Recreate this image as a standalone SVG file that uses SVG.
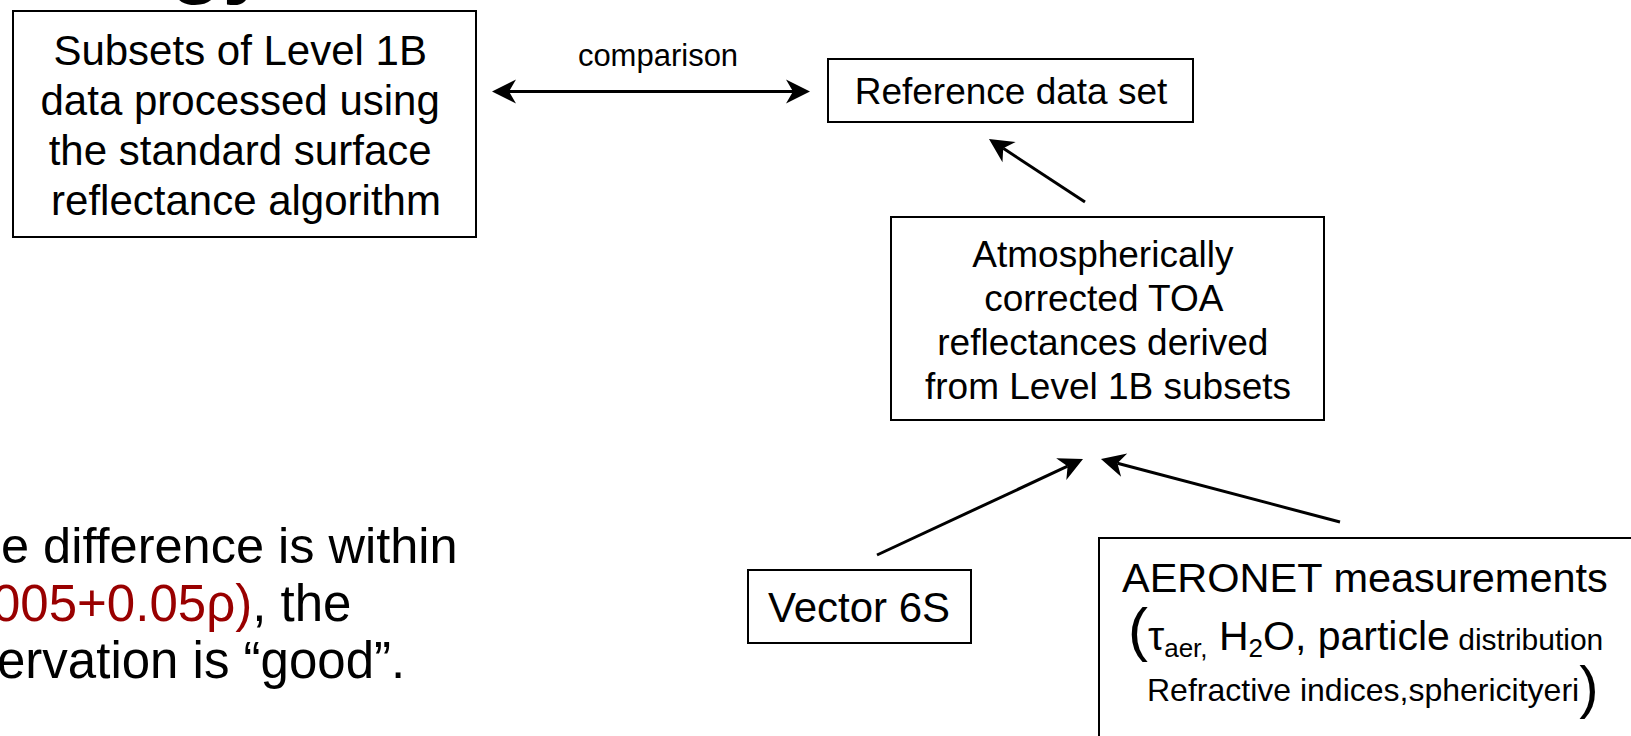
<svg xmlns="http://www.w3.org/2000/svg" width="1631" height="736" viewBox="0 0 1631 736">
<style>
  .box { fill: #ffffff; stroke: #000000; stroke-width: 2; }
  .t { font-family: "Liberation Sans", Arial, sans-serif; fill: #000000; }
  .c { text-anchor: middle; }
  .conn { stroke: #000000; stroke-width: 3; fill: none; }
  .red { fill: #990000; }
</style>
<defs>
  <marker id="ah" markerUnits="userSpaceOnUse" viewBox="-26 -14 28 28" markerWidth="28" markerHeight="28" refX="-17" refY="0" orient="auto-start-reverse">
    <path d="M0,0 L-24,-12 L-17,0 L-24,12 Z" fill="#000000"/>
  </marker>
</defs>
<rect width="1631" height="736" fill="#ffffff"/>

<g id="title">
  <text class="t" x="170" y="-13" font-size="86" font-weight="bold">gy</text>
</g>

<g id="node-subsets">
  <rect class="box" x="13" y="11" width="463" height="226"/>
  <text class="t c" font-size="42">
    <tspan x="246" y="65">Subsets of Level 1B</tspan>
    <tspan x="246" y="115">data processed using</tspan>
    <tspan x="246" y="165">the standard surface</tspan>
    <tspan x="246" y="215">reflectance algorithm</tspan>
  </text>
</g>

<g id="node-reference">
  <rect class="box" x="828" y="59" width="365" height="63"/>
  <text class="t c" x="1011" y="104" font-size="37">Reference data set</text>
</g>

<g id="node-atmos">
  <rect class="box" x="891" y="217" width="433" height="203"/>
  <text class="t c" font-size="37">
    <tspan x="1108" y="267">Atmospherically</tspan>
    <tspan x="1108" y="311">corrected TOA</tspan>
    <tspan x="1108" y="355">reflectances derived</tspan>
    <tspan x="1108" y="399">from Level 1B subsets</tspan>
  </text>
</g>

<g id="node-vector6s">
  <rect class="box" x="748" y="570" width="223" height="73"/>
  <text class="t c" x="859" y="622" font-size="42">Vector 6S</text>
</g>

<g id="node-aeronet">
  <rect class="box" x="1099" y="538" width="600" height="300"/>
  <text class="t" x="1122" y="592" font-size="41.5">AERONET measurements</text>
  <text class="t" x="1128" y="650" font-size="41"><tspan font-size="60">(</tspan><tspan>τ</tspan><tspan font-size="26" dy="7">aer,</tspan><tspan dy="-7"> H</tspan><tspan font-size="26" dy="7">2</tspan><tspan dy="-7">O, particle</tspan><tspan font-size="30"> distribution</tspan></text>
  <text class="t" x="1147" y="701" font-size="32">Refractive indices,sphericityeri<tspan font-size="58" dy="6">)</tspan></text>
</g>

<g id="note">
  <text class="t" x="1" y="563" font-size="50.5">e difference is within</text>
  <text class="t" x="-8" y="621" font-size="51"><tspan class="red">005+0.05ρ)</tspan>, the</text>
  <text class="t" x="-3" y="678" font-size="51">ervation is “good”.</text>
</g>

<g id="connectors">
  <line class="conn" x1="509" y1="91.5" x2="793" y2="91.5" marker-start="url(#ah)" marker-end="url(#ah)"/>
  <text class="t c" x="658" y="66" font-size="31">comparison</text>
  <line class="conn" x1="1085" y1="202" x2="1003.2" y2="148.3" marker-end="url(#ah)"/>
  <line class="conn" x1="877" y1="555" x2="1067.6" y2="466.2" marker-end="url(#ah)"/>
  <line class="conn" x1="1340" y1="522" x2="1117.4" y2="463.3" marker-end="url(#ah)"/>
</g>
</svg>
